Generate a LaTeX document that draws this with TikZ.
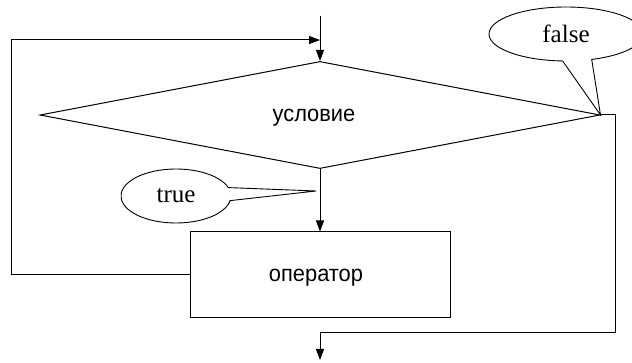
\documentclass[tikz,border=0pt]{standalone}
\usepackage{fontspec}
\usetikzlibrary{shapes.geometric,shapes.callouts,arrows.meta}
\newfontfamily\ruSans[FakeStretch=0.95]{Liberation Sans}
\newfontfamily\enSerif{Liberation Serif}
\begin{document}
\begin{tikzpicture}[x=1pt,y=-1pt,
  line/.style={line width=1pt,draw=black},
  arr/.style={line,-{Triangle[length=11pt,width=8pt]}},
  decision/.style={diamond,draw,line width=1pt,inner sep=0pt,
    minimum width=560pt,minimum height=106pt,text depth=0pt,
    font=\ruSans\fontsize{23}{27}\selectfont},
  process/.style={rectangle,draw,line width=1pt,inner sep=0pt,
    minimum width=260pt,minimum height=86pt,text depth=0pt,
    font=\ruSans\fontsize{23}{27}\selectfont},
  branchnote/.style={ellipse callout,draw,fill=white,line width=0.9pt,
    inner sep=0pt,font=\enSerif\fontsize{25}{30}\selectfont}
]
\useasboundingbox (0,0) rectangle (632,363);

% flowchart elements (text sits a little left of centre)
\node[decision] (cond) at (320,115) {условие\kern12pt};
\node[process] (op) at (320,275) {оператор\kern8pt};

% helper points of the loop
\coordinate (start) at (320,16);
\coordinate (join) at (320,40);
\coordinate (loopBL) at (11,275);
\coordinate (loopTL) at (11,40);
\coordinate (exitR) at (615,115);
\coordinate (exitRB) at (615,333);
\coordinate (exitB) at (320,333);
\coordinate (finish) at (320,360);
\coordinate (trueTip) at (316,191);

% connectors
\draw[arr] (start) -- (cond.north);
\draw[arr] (cond.south) -- (op.north);
\draw[arr] (op.west) -- (loopBL) -- (loopTL) -- (join);
\draw[line] (cond.east) -- (exitR) -- (exitRB) -- (exitB);
\draw[arr] (exitB) -- (finish);

% branch labels
\node[branchnote,minimum width=110pt,minimum height=54pt,
  callout absolute pointer={(trueTip)},callout pointer arc=28]
  (truenote) at (176,196) {true};
\node[branchnote,minimum width=154pt,minimum height=54pt,
  callout absolute pointer={(cond.east)},callout pointer arc=22]
  (falsenote) at (566,34) {false};
\end{tikzpicture}
\end{document}
